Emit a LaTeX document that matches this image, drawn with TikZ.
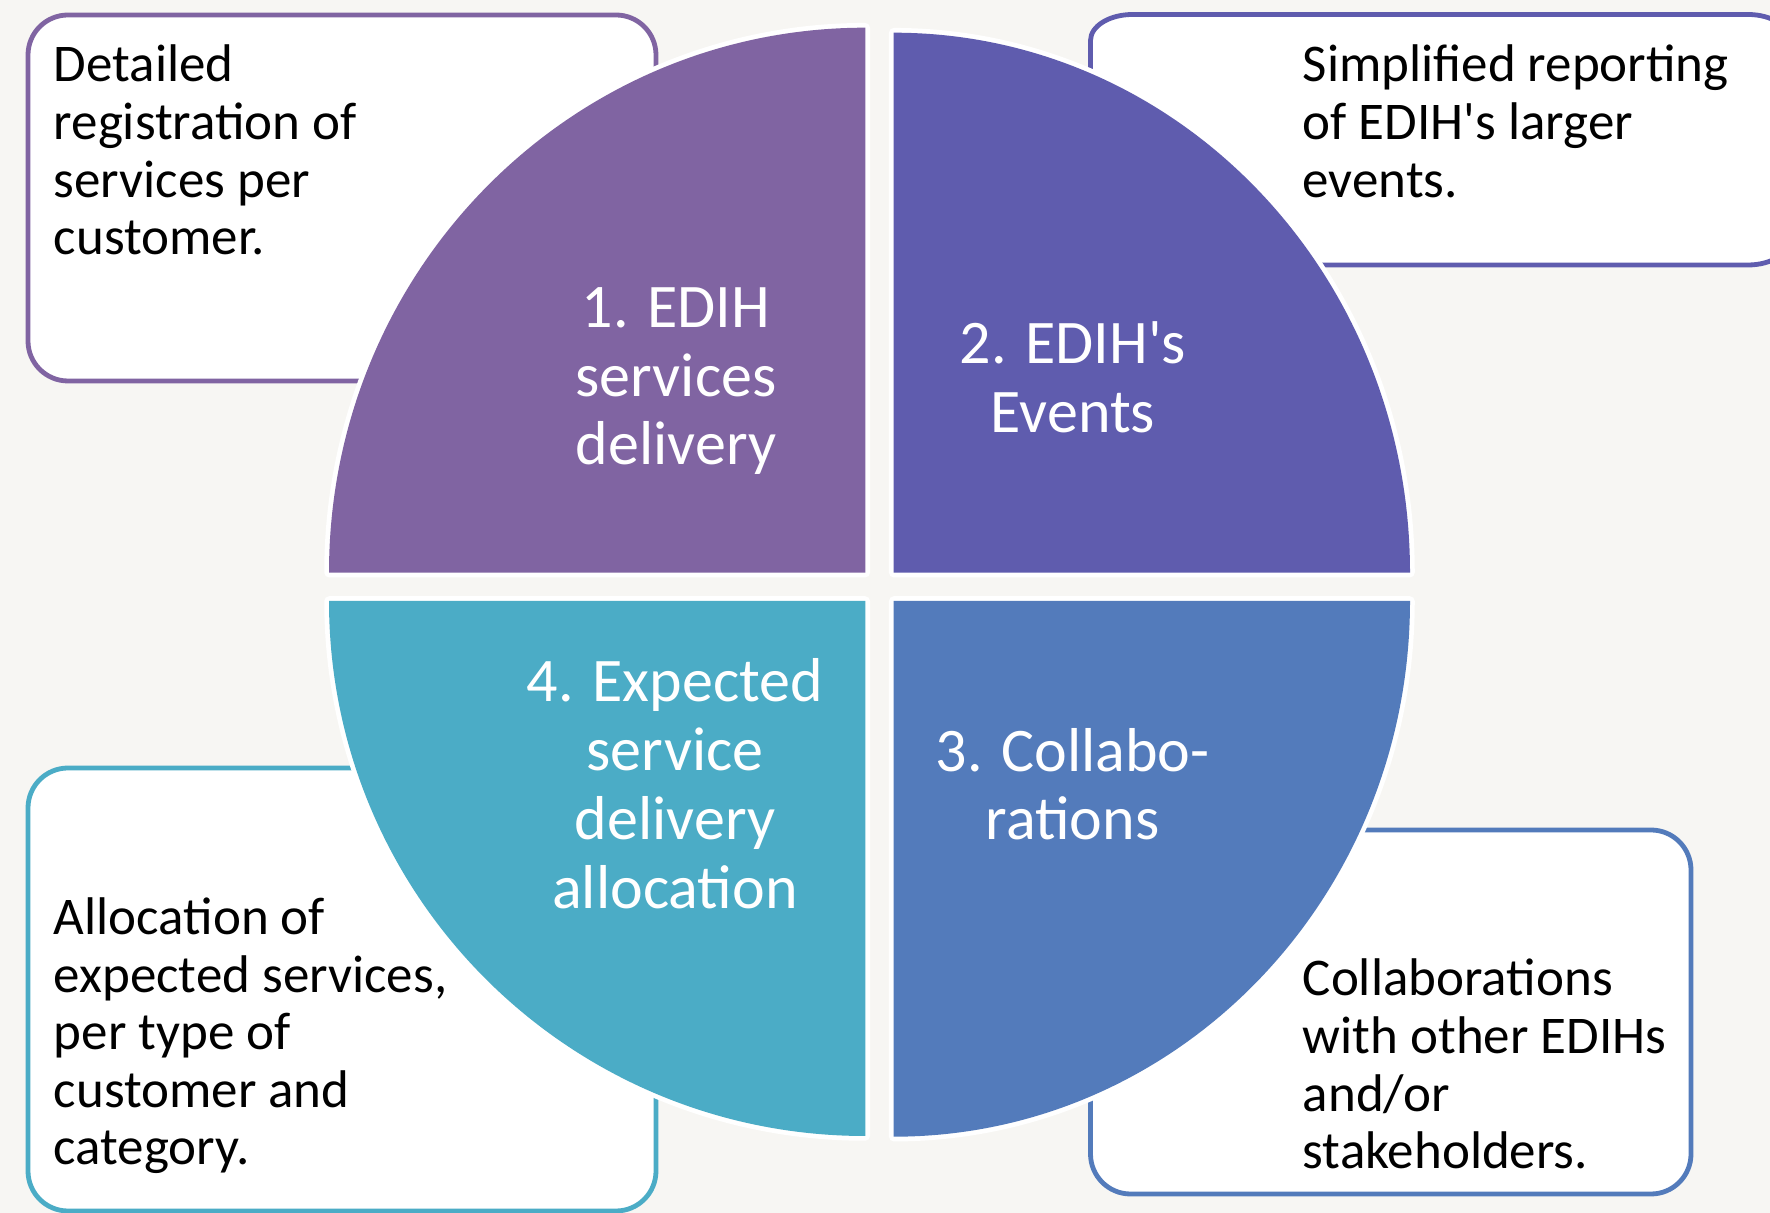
\documentclass[tikz,border=0pt]{standalone}
\usepackage{fontspec}
\setmainfont{Carlito}
\definecolor{bgc}{HTML}{F7F6F3}
\definecolor{cPurple}{HTML}{8064A2}
\definecolor{cIndigo}{HTML}{5F5CAE}
\definecolor{cBlue}{HTML}{537BBB}
\definecolor{cTeal}{HTML}{4BACC6}
\tikzset{
  boxframe/.style={draw=#1, line width=4.8pt, fill=white},
  quadfill/.style={fill=#1, preaction={draw=white, line width=9.5pt, line join=round}},
  boxtxt/.style={anchor=base west, inner sep=0pt, text=black, font=\fontsize{53}{57.6}\selectfont},
  quadtxt/.style={anchor=base, inner sep=0pt, text=white, font=\fontsize{62}{69}\selectfont},
}
\begin{document}
\begin{tikzpicture}[x=1pt, y=1pt]
\useasboundingbox (0,0) rectangle (1770,1213);
\clip (0,0) rectangle (1770,1213);
\fill[bgc] (0,0) rectangle (1770,1213);

% description boxes
\draw[boxframe=cPurple, rounded corners=40pt] (28,832) rectangle (656,1198);
\draw[boxframe=cIndigo] (1132.5,1198.5) -- (1748,1198.5)
  arc[start angle=90, end angle=0, x radius=42pt, y radius=26pt]
  -- (1790,974)
  arc[start angle=0, end angle=-90, x radius=42pt, y radius=26pt]
  -- (1132.5,948)
  arc[start angle=270, end angle=180, x radius=42pt, y radius=26pt]
  -- (1090.5,1172.5)
  arc[start angle=180, end angle=90, x radius=42pt, y radius=26pt]
  -- cycle;
\draw[boxframe=cBlue, rounded corners=40pt] (1090.5,19) rectangle (1691,383);
\draw[boxframe=cTeal, rounded corners=40pt] (28,2) rectangle (656,445);

% quadrants
\path[quadfill=cPurple] (865.3,640.3) -- (329,640.3)
  arc[start angle=180, end angle=90, x radius=536.3pt, y radius=545pt] -- cycle;
\path[quadfill=cIndigo] (893.7,640.3) -- (893.7,1180.3)
  arc[start angle=90, end angle=0, x radius=516.3pt, y radius=540pt] -- cycle;
\path[quadfill=cBlue] (893.7,612) -- (1410,612)
  arc[start angle=0, end angle=-90, x radius=516.3pt, y radius=535.7pt] -- cycle;
\path[quadfill=cTeal] (865.3,612) -- (865.3,77)
  arc[start angle=270, end angle=180, x radius=536.3pt, y radius=535pt] -- cycle;

% quadrant titles
\node[quadtxt] (q1a) at (676,885.2) {1. EDIH};
\node[quadtxt] (q1b) at (676,816.7) {services};
\node[quadtxt] (q1c) at (676,748.2) {delivery};

\node[quadtxt] (q2a) at (1073,849) {2. EDIH\textquotesingle s};
\node[quadtxt] (q2b) at (1073,780) {Events};

\node[quadtxt] (q3a) at (1072.6,441) {3. Collabo-};
\node[quadtxt] (q3b) at (1072.6,373) {rations};

\node[quadtxt] (q4a) at (675,511) {4. Expected};
\node[quadtxt] (q4b) at (675,442) {service};
\node[quadtxt] (q4c) at (675,373) {delivery};
\node[quadtxt] (q4d) at (675,304) {allocation};

% box texts
\node[boxtxt] (b1a) at (53.6,1131) {Detailed};
\node[boxtxt] (b1b) at (53.6,1073.4) {registration of};
\node[boxtxt] (b1c) at (53.6,1015.8) {services per};
\node[boxtxt] (b1d) at (53.6,958.2) {customer.};

\node[boxtxt] (b2a) at (1302.6,1131) {Simplified reporting};
\node[boxtxt] (b2b) at (1302.6,1073.4) {of EDIH\textquotesingle s larger};
\node[boxtxt] (b2c) at (1302.6,1015.8) {events.};

\node[boxtxt] (b3a) at (1302.6,217) {Collaborations};
\node[boxtxt] (b3b) at (1302.6,159.4) {with other EDIHs};
\node[boxtxt] (b3c) at (1302.6,101.8) {and/or};
\node[boxtxt] (b3d) at (1302.6,44.2) {stakeholders.};

\node[boxtxt] (b4a) at (53.6,278) {Allocation of};
\node[boxtxt] (b4b) at (53.6,220.5) {expected services,};
\node[boxtxt] (b4c) at (53.6,163) {per type of};
\node[boxtxt] (b4d) at (53.6,105.5) {customer and};
\node[boxtxt] (b4e) at (53.6,48) {category.};
\end{tikzpicture}
\end{document}
